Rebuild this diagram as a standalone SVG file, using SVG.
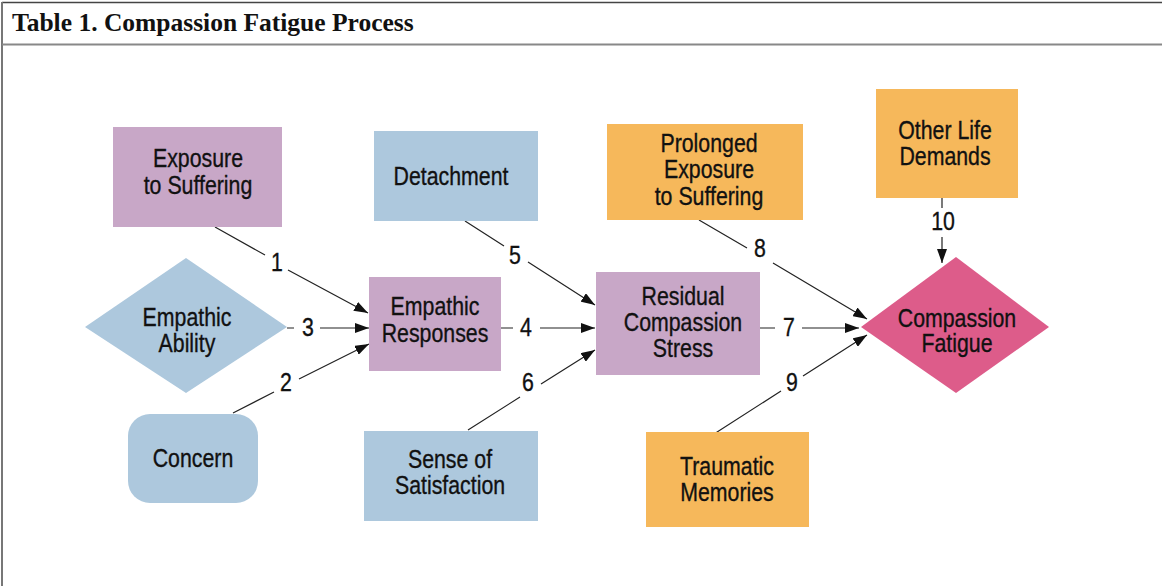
<svg xmlns="http://www.w3.org/2000/svg" width="1162" height="586" viewBox="0 0 1162 586">
<style>
.t{font-family:"Liberation Sans",Arial,sans-serif;font-size:26px;fill:#111;stroke:#111;stroke-width:0.35;text-anchor:middle}
.pur{fill:#C8A7C7}
.blu{fill:#ADC8DD}
.org{fill:#F6B85B}
.pnk{fill:#DD5C8A}
.c{fill:none;stroke:#222;stroke-width:1.2;marker-end:url(#ah)}
</style>
<defs>
<marker id="ah" markerUnits="userSpaceOnUse" markerWidth="14" markerHeight="10" refX="14" refY="5" orient="auto">
<path d="M0,0 L14,5 L0,10 z" fill="#111"/>
</marker>
</defs>
<rect width="1162" height="586" fill="#fff"/>
<g id="frame">
<line x1="2" y1="2.5" x2="1162" y2="2.5" stroke="#444" stroke-width="1.5"/>
<line x1="2" y1="2" x2="2" y2="586" stroke="#777" stroke-width="2"/>
<line x1="2" y1="44.5" x2="1162" y2="44.5" stroke="#888" stroke-width="2"/>
<text x="12" y="31" font-family="Liberation Serif, serif" font-weight="bold" font-size="25.5" fill="#111">Table 1. Compassion Fatigue Process</text>
</g>
<g id="connectors">
<path class="c" d="M215,227 L265,255 M288,270 L368,313"/>
<path class="c" d="M287,328 L294,328 M320,328 L369,328"/>
<path class="c" d="M233,413 L274,392 M299,379 L369,344"/>
<path class="c" d="M465,221 L504,246 M528,262 L595,305"/>
<path class="c" d="M501,328 L513,328 M540,328 L595,328"/>
<path class="c" d="M468,430 L520,397 M541,384 L595,350"/>
<path class="c" d="M699,220 L747,248 M773,263 L867,319"/>
<path class="c" d="M760,328 L775,328 M802,328 L859,328"/>
<path class="c" d="M714,434 L781,391 M803,376 L867,335"/>
<path class="c" d="M942,198 L942,208 M942,237 L942,263"/>
<text class="t" transform="translate(277 0) scale(0.82 1)" y="271">1</text>
<text class="t" transform="translate(308 0) scale(0.82 1)" y="336">3</text>
<text class="t" transform="translate(286 0) scale(0.82 1)" y="391">2</text>
<text class="t" transform="translate(515 0) scale(0.82 1)" y="264">5</text>
<text class="t" transform="translate(526 0) scale(0.82 1)" y="336">4</text>
<text class="t" transform="translate(528 0) scale(0.82 1)" y="391">6</text>
<text class="t" transform="translate(760 0) scale(0.82 1)" y="257">8</text>
<text class="t" transform="translate(789 0) scale(0.82 1)" y="336">7</text>
<text class="t" transform="translate(792 0) scale(0.82 1)" y="391">9</text>
<text class="t" transform="translate(943 0) scale(0.82 1)" y="230">10</text>
</g>
<g id="exposure">
<rect class="pur" x="113" y="127" width="169" height="100"/>
<text class="t" transform="translate(198 0) scale(0.82 1)"><tspan x="0" y="167">Exposure</tspan><tspan x="0" y="194">to Suffering</tspan></text>
</g>
<g id="detachment">
<rect class="blu" x="374" y="131" width="164" height="90"/>
<text class="t" transform="translate(451 0) scale(0.82 1)" y="185">Detachment</text>
</g>
<g id="prolonged">
<rect class="org" x="607" y="124" width="196" height="96"/>
<text class="t" transform="translate(709 0) scale(0.82 1)"><tspan x="0" y="152">Prolonged</tspan><tspan x="0" y="178">Exposure</tspan><tspan x="0" y="205">to Suffering</tspan></text>
</g>
<g id="otherlife">
<rect class="org" x="876" y="89" width="142" height="109"/>
<text class="t" transform="translate(945 0) scale(0.82 1)"><tspan x="0" y="139">Other Life</tspan><tspan x="0" y="165">Demands</tspan></text>
</g>
<g id="empathicability">
<polygon class="blu" points="186,258 287,327 186,393 85,327"/>
<text class="t" transform="translate(187 0) scale(0.82 1)"><tspan x="0" y="326">Empathic</tspan><tspan x="0" y="352">Ability</tspan></text>
</g>
<g id="empathicresponses">
<rect class="pur" x="369" y="277" width="132" height="94"/>
<text class="t" transform="translate(435 0) scale(0.82 1)"><tspan x="0" y="315">Empathic</tspan><tspan x="0" y="342">Responses</tspan></text>
</g>
<g id="residual">
<rect class="pur" x="596" y="272" width="164" height="103"/>
<text class="t" transform="translate(683 0) scale(0.82 1)"><tspan x="0" y="305">Residual</tspan><tspan x="0" y="331">Compassion</tspan><tspan x="0" y="357">Stress</tspan></text>
</g>
<g id="compassionfatigue">
<polygon class="pnk" points="956,257 1049,327 956,393 861,327"/>
<text class="t" transform="translate(957 0) scale(0.82 1)"><tspan x="0" y="327">Compassion</tspan><tspan x="0" y="352">Fatigue</tspan></text>
</g>
<g id="concern">
<rect class="blu" x="128" y="414" width="130" height="89" rx="22" ry="22"/>
<text class="t" transform="translate(193 0) scale(0.82 1)" y="467">Concern</text>
</g>
<g id="satisfaction">
<rect class="blu" x="364" y="431" width="174" height="90"/>
<text class="t" transform="translate(450 0) scale(0.82 1)"><tspan x="0" y="468">Sense of</tspan><tspan x="0" y="494">Satisfaction</tspan></text>
</g>
<g id="traumatic">
<rect class="org" x="646" y="432" width="163" height="95"/>
<text class="t" transform="translate(727 0) scale(0.82 1)"><tspan x="0" y="475">Traumatic</tspan><tspan x="0" y="501">Memories</tspan></text>
</g>
</svg>
